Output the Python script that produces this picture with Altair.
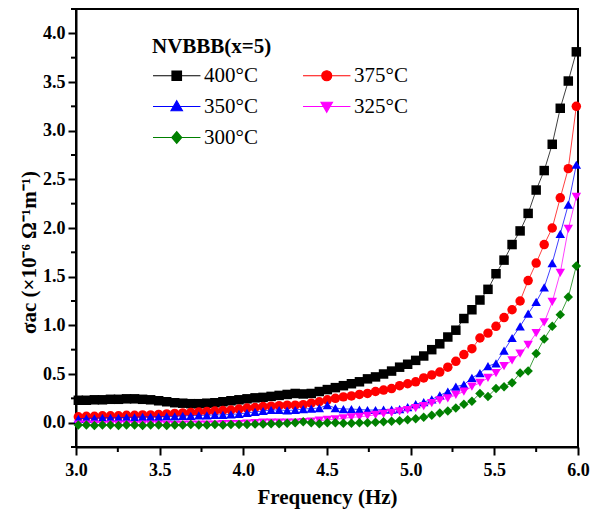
import altair as alt
import pandas as pd

# log10 frequency (Hz) of the measured points
freq = [3.014, 3.062, 3.110, 3.158, 3.206, 3.254, 3.302, 3.350, 3.398, 3.446,
        3.494, 3.542, 3.590, 3.638, 3.686, 3.734, 3.782, 3.830, 3.878, 3.926,
        3.974, 4.022, 4.070, 4.118, 4.166, 4.214, 4.262, 4.310, 4.358, 4.406,
        4.454, 4.502, 4.550, 4.598, 4.646, 4.694, 4.742, 4.790, 4.838, 4.886,
        4.934, 4.982, 5.030, 5.078, 5.126, 5.174, 5.222, 5.270, 5.318, 5.366,
        5.414, 5.462, 5.510, 5.558, 5.606, 5.654, 5.702, 5.750, 5.798, 5.846,
        5.894, 5.942, 5.990]

s400 = [0.23, 0.23, 0.235, 0.235, 0.24, 0.24, 0.245, 0.245, 0.24, 0.235,
        0.225, 0.215, 0.205, 0.20, 0.195, 0.195, 0.20, 0.205, 0.215, 0.225,
        0.235, 0.245, 0.255, 0.26, 0.27, 0.28, 0.29, 0.30, 0.295, 0.30,
        0.32, 0.34, 0.36, 0.38, 0.40, 0.42, 0.45, 0.47, 0.50, 0.53,
        0.57, 0.60, 0.64, 0.685, 0.75, 0.81, 0.88, 0.95, 1.07, 1.16,
        1.26, 1.37, 1.53, 1.67, 1.83, 1.97, 2.15, 2.39, 2.59, 2.86,
        3.23, 3.51, 3.81]

s375 = [0.06, 0.065, 0.065, 0.07, 0.07, 0.07, 0.075, 0.075, 0.08, 0.08,
        0.085, 0.09, 0.095, 0.10, 0.105, 0.11, 0.115, 0.12, 0.125, 0.13,
        0.14, 0.15, 0.155, 0.165, 0.17, 0.175, 0.18, 0.18, 0.185, 0.20,
        0.215, 0.235, 0.25, 0.265, 0.275, 0.29, 0.30, 0.32, 0.335, 0.35,
        0.38, 0.40, 0.42, 0.46, 0.49, 0.52, 0.57, 0.63, 0.70, 0.76,
        0.87, 0.92, 0.99, 1.08, 1.16, 1.25, 1.46, 1.64, 1.83, 2.00,
        2.31, 2.61, 3.25]

s350 = [0.04, 0.045, 0.045, 0.05, 0.05, 0.05, 0.055, 0.055, 0.06, 0.06,
        0.06, 0.065, 0.065, 0.07, 0.07, 0.075, 0.075, 0.08, 0.08, 0.085,
        0.09, 0.10, 0.11, 0.12, 0.13, 0.13, 0.125, 0.13, 0.14, 0.145,
        0.15, 0.18, 0.15, 0.14, 0.14, 0.135, 0.13, 0.13, 0.135, 0.135,
        0.14, 0.16, 0.19, 0.21, 0.24, 0.28, 0.32, 0.37, 0.39, 0.46,
        0.51, 0.58, 0.61, 0.74, 0.87, 0.99, 1.12, 1.24, 1.39, 1.64,
        1.94, 2.24, 2.65]

s325 = [-0.02, -0.02, -0.02, -0.025, -0.02, -0.02, -0.02, -0.025, -0.02, -0.02,
        -0.02, -0.02, -0.025, -0.02, -0.02, -0.02, -0.02, -0.02, -0.015, -0.015,
        -0.015, -0.01, -0.005, 0.0, 0.0, 0.0, 0.0, 0.0, 0.005, 0.01,
        0.02, 0.03, 0.035, 0.045, 0.055, 0.06, 0.07, 0.08, 0.09, 0.10,
        0.115, 0.13, 0.15, 0.17, 0.20, 0.23, 0.25, 0.285, 0.32, 0.37,
        0.41, 0.46, 0.51, 0.58, 0.64, 0.71, 0.80, 0.92, 1.03, 1.24,
        1.54, 1.99, 2.32]

s300 = [-0.025, -0.025, -0.03, -0.025, -0.025, -0.03, -0.025, -0.025, -0.03, -0.025,
        -0.025, -0.03, -0.025, -0.025, -0.02, -0.025, -0.025, -0.02, -0.025, -0.02,
        -0.02, -0.02, -0.015, -0.015, -0.01, -0.01, -0.005, 0.0, 0.01, 0.0,
        -0.01, 0.0, 0.0, -0.005, -0.005, 0.0, 0.0, 0.005, 0.01, 0.015,
        0.02, 0.03, 0.04, 0.055, 0.075, 0.10, 0.12, 0.15, 0.19, 0.22,
        0.30, 0.27, 0.35, 0.37, 0.41, 0.51, 0.53, 0.71, 0.86, 0.99,
        1.11, 1.29, 1.61]

series_names = ["400°C", "375°C", "350°C", "325°C", "300°C"]
series_values = [s400, s375, s350, s325, s300]
series_colors = ["#000000", "#ff0000", "#0000ff", "#ff00ff", "#008000"]
series_shapes = ["square", "circle", "triangle-up", "triangle-down", "diamond"]

# legend symbols: a short line with the marker on it (unit path coordinates)
legend_paths = [
    "M-2,0H8M2,-1H4V1H2Z",
    "M-2,0H8M4.05,0A1.05,1.05,0,1,1,1.95,0A1.05,1.05,0,1,1,4.05,0Z",
    "M-2,0H8M3,-1.2L4.2,0.9L1.8,0.9Z",
    "M-2,0H8M3,1.2L4.2,-0.9L1.8,-0.9Z",
    "M-2,0H8M3,-1.25L4.05,0L3,1.25L1.95,0Z",
]

x_major = [3.0, 3.5, 4.0, 4.5, 5.0, 5.5, 6.0]
x_minor = [3.25, 3.75, 4.25, 4.75, 5.25, 5.75]
y_major = [0.0, 0.5, 1.0, 1.5, 2.0, 2.5, 3.0, 3.5, 4.0]
y_minor = [-0.25, 0.25, 0.75, 1.25, 1.75, 2.25, 2.75, 3.25, 3.75, 4.25]

rows = []
for name, vals in zip(series_names, series_values):
    for f, v in zip(freq, vals):
        rows.append({"freq": f, "sigma": v, "series": name})
df = pd.DataFrame(rows)

SERIF = "Liberation Serif"
W, H = 502, 438
MINOR_LEN = 5

x_scale = alt.Scale(domain=[3.0, 6.0], nice=False, zero=False)
y_scale = alt.Scale(domain=[-0.25, 4.25], nice=False, zero=False)

x_axis = alt.Axis(values=x_major, format=".1f", ticks=True, tickSize=8, tickWidth=2,
                  tickColor="black", title="Frequency (Hz)",
                  labelFlush=False, labelOverlap=False, labelPadding=6, titlePadding=7,
                  grid=False)
y_axis = alt.Axis(values=y_major, format=".1f", ticks=True, tickSize=8, tickWidth=2,
                  tickColor="black", title="σac (×10⁻⁶ Ω⁻¹m⁻¹)",
                  labelFlush=False, labelOverlap=False, labelPadding=3, titlePadding=3,
                  titleY=243, grid=False)

x_enc = alt.X("freq:Q", scale=x_scale, axis=x_axis)
y_enc = alt.Y("sigma:Q", scale=y_scale, axis=y_axis)

layers = []
for name, color, shape in zip(series_names, series_colors, series_shapes):
    base = alt.Chart(df).transform_filter(alt.datum.series == name)
    layers.append(base.mark_line(color=color, strokeWidth=1, opacity=0.75).encode(x=x_enc, y=y_enc))
    layers.append(base.mark_point(filled=True, shape=shape, color=color, size=90, opacity=1)
                  .encode(x=x_enc, y=y_enc))

# shorter outward minor tick marks between the labelled ticks
minor_x = alt.Chart(pd.DataFrame({"v": x_minor})).mark_rule(color="black", strokeWidth=2).encode(
    x=alt.X("v:Q", scale=x_scale, axis=x_axis), y=alt.value(H), y2=alt.value(H + MINOR_LEN))
minor_y = alt.Chart(pd.DataFrame({"v": y_minor})).mark_rule(color="black", strokeWidth=2).encode(
    y=alt.Y("v:Q", scale=y_scale, axis=y_axis), x=alt.value(-MINOR_LEN), x2=alt.value(0))

leg = alt.Legend(title="NVBBB(x=5)", orient="none", legendX=76, legendY=27, columns=2,
                 direction="horizontal",
                 symbolSize=90, symbolStrokeWidth=1.2, symbolOpacity=1,
                 labelOffset=31, columnPadding=42, rowPadding=9, padding=0,
                 titleFont=SERIF, titleFontSize=21, titleFontWeight="bold", titlePadding=8,
                 labelFont=SERIF, labelFontSize=21, labelColor="black", titleColor="black")

legend_df = pd.DataFrame({"series": series_names})
legend_layer = alt.Chart(legend_df).mark_point(filled=True, opacity=0).encode(
    fill=alt.Fill("series:N", scale=alt.Scale(domain=series_names, range=series_colors), legend=leg),
    stroke=alt.Stroke("series:N", scale=alt.Scale(domain=series_names, range=series_colors), legend=leg),
    shape=alt.Shape("series:N", scale=alt.Scale(domain=series_names, range=legend_paths), legend=leg),
)

chart = alt.layer(*layers, minor_x, minor_y, legend_layer).properties(
    width=W, height=H,
    autosize=alt.AutoSizeParams(type="none"),
    padding={"left": 68, "top": 1, "right": 12, "bottom": 62},
).configure_view(stroke="black", strokeWidth=2).configure_axis(
    domainColor="black", domainWidth=2,
    labelFont=SERIF, labelFontSize=18, labelFontWeight="bold", labelColor="black",
    titleFont=SERIF, titleFontSize=21, titleFontWeight="bold", titleColor="black",
)

chart.save("out.html", embed_options={"renderer": "svg", "actions": False})
